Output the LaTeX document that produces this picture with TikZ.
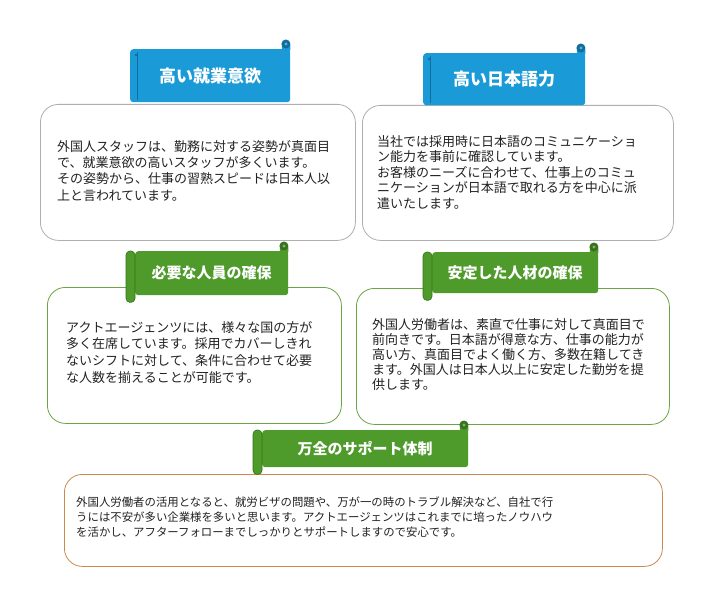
\documentclass[tikz,border=0pt]{standalone}
\usepackage{fontspec}
\newfontfamily\cjk{Noto Sans CJK JP}
\usetikzlibrary{positioning}
\definecolor{bannerblue}{HTML}{1A9AD6}
\definecolor{bannerblueD}{HTML}{0F6E9E}
\definecolor{bannergreen}{HTML}{4E9A2B}
\definecolor{bannergreenD}{HTML}{37731B}
\definecolor{edgegray}{HTML}{AFAFAF}
\definecolor{edgegreen}{HTML}{6AA444}
\definecolor{edgeorange}{HTML}{C98A4E}
\definecolor{bodyink}{HTML}{222222}
\begin{document}
\begin{tikzpicture}[x=1pt, y=-1pt,
    box/.style={draw=#1, line width=0.8pt, fill=white, rounded corners=18pt,
        anchor=north west, inner sep=0pt},
    banner/.style={fill=#1, rounded corners=3pt, anchor=north west, inner sep=0pt,
        text=white, font=\cjk\bfseries\fontsize{17}{20}\selectfont},
    gbanner/.style={banner=bannergreen, font=\cjk\bfseries\fontsize{15}{18}\selectfont},
    bodytext/.style={anchor=north west, inner sep=0pt, align=left, text=bodyink,
        font=\cjk\fontsize{13}{#1}\selectfont}]
    % Page
    \useasboundingbox[fill=white] (0,0) rectangle (710,615);
    % Boxes
    \node[box=edgegray, minimum width=315pt, minimum height=136pt] (b1) at (40,104) {};
    \node[box=edgegray, minimum width=311pt, minimum height=135pt] (b2) at (362,105) {};
    \node[box=edgegreen, minimum width=294pt, minimum height=136pt] (b3) at (47,287) {};
    \node[box=edgegreen, minimum width=313pt, minimum height=136pt] (b4) at (356,288) {};
    \node[box=edgeorange, minimum width=598pt, minimum height=92pt] (b5) at (64,474) {};
    % Banners
    \node[banner=bannerblue, minimum width=160pt, minimum height=53pt] (h1) at (130,49) {高い就業意欲};
    \node[banner=bannerblue, minimum width=162pt, minimum height=52pt] (h2) at (423,53) {高い日本語力};
    \node[gbanner, minimum width=153pt, minimum height=44pt] (h3) at (135,251) {必要な人員の確保};
    \node[gbanner, minimum width=166pt, minimum height=41pt] (h4) at (432,252) {安定した人材の確保};
    \node[gbanner, minimum width=206pt, minimum height=37pt] (h5) at (262,430) {万全のサポート体制};
    % Rolled ends
    \foreach \h in {h1,h2} {
        \draw[bannerblueD, line width=0.6pt] ([xshift=7pt,yshift=-3pt]\h.north west) -- ([xshift=7pt,yshift=2pt]\h.south west);
        \fill[bannerblueD] ([xshift=6pt,yshift=-6pt]\h.north west) circle (1.3pt);
    }
    \foreach \h in {h3,h4,h5}
        \draw[fill=bannergreen, draw=bannergreenD, line width=0.6pt, rounded corners=4pt]
            ([xshift=-9pt]\h.north west) rectangle ([yshift=-7pt]\h.south west);
    \foreach \h/\m/\c in {h1/bannerblue/bannerblueD, h2/bannerblue/bannerblueD, h3/bannergreen/bannergreenD,
            h4/bannergreen/bannergreenD, h5/bannergreen/bannergreenD} {
        \fill[\m, rounded corners=1pt] ([xshift=-8.5pt,yshift=-2pt]\h.north east) rectangle ([xshift=0pt,yshift=4.5pt]\h.north east);
        \fill[\c] ([xshift=-4.5pt,yshift=5pt]\h.north east) circle (4.5pt);
        \fill[\c!60] ([xshift=-4.5pt,yshift=5pt]\h.north east) circle (1.6pt);
    }
    % Texts
    \node[bodytext=16.4] (t1) at ([xshift=17pt,yshift=-36pt]b1.north west)
        {外国人スタッフは、勤務に対する姿勢が真面目\\で、就業意欲の高いスタッフが多くいます。\\その姿勢から、仕事の習熟スピードは日本人以\\上と言われています。};
    \node[bodytext=15.6] (t2) at ([xshift=15pt,yshift=-30pt]b2.north west)
        {当社では採用時に日本語のコミュニケーショ\\ン能力を事前に確認しています。\\お客様のニーズに合わせて、仕事上のコミュ\\ニケーションが日本語で取れる方を中心に派\\遣いたします。};
    \node[bodytext=16.7] (t3) at ([xshift=19pt,yshift=-34pt]b3.north west)
        {アクトエージェンツには、様々な国の方が\\多く在席しています。採用でカバーしきれ\\ないシフトに対して、条件に合わせて必要\\な人数を揃えることが可能です。};
    \node[bodytext=15] (t4) at ([xshift=16pt,yshift=-30pt]b4.north west)
        {外国人労働者は、素直で仕事に対して真面目で\\前向きです。日本語が得意な方、仕事の能力が\\高い方、真面目でよく働く方、多数在籍してき\\ます。外国人は日本人以上に安定した勤労を提\\供します。};
    \node[bodytext=14.6, font=\cjk\fontsize{11.4}{14.6}\selectfont] (t5) at ([xshift=12pt,yshift=-23pt]b5.north west)
        {外国人労働者の活用となると、就労ビザの問題や、万が一の時のトラブル解決など、自社で行\\うには不安が多い企業様を多いと思います。アクトエージェンツはこれまでに培ったノウハウ\\を活かし、アフターフォローまでしっかりとサポートしますので安心です。};
\end{tikzpicture}
\end{document}
